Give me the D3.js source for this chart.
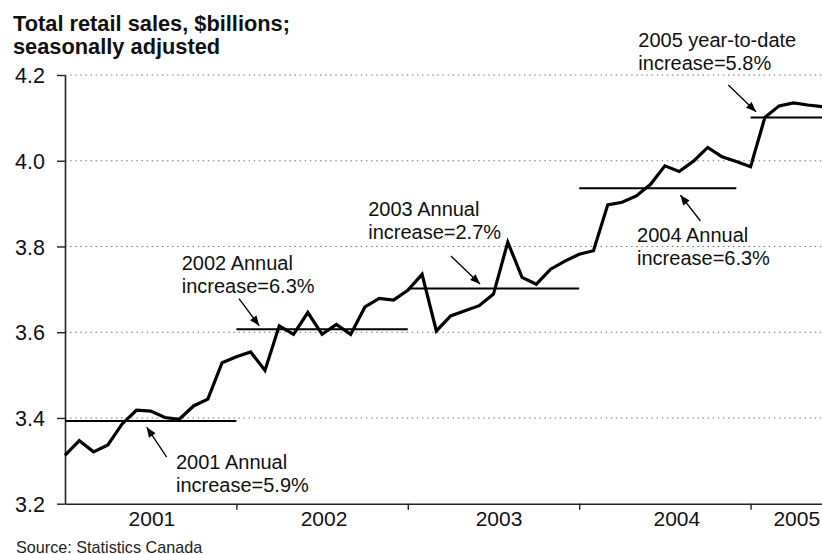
<!DOCTYPE html>
<html>
<head>
<meta charset="utf-8">
<script src="https://cdn.jsdelivr.net/npm/d3@7/dist/d3.min.js"></script>
<style>
  html, body { margin: 0; padding: 0; background: #fff; }
  svg { display: block; font-family: "Liberation Sans", Arial, Helvetica, sans-serif; }
</style>
</head>
<body>
<svg id="chart" width="822" height="554"></svg>
<script>
// ---- data ----
const sales2001 = [3.313, 3.347, 3.321, 3.337, 3.386, 3.418, 3.416, 3.401, 3.397, 3.428, 3.444, 3.529];
const sales2002 = [3.543, 3.554, 3.511, 3.615, 3.595, 3.646, 3.595, 3.618, 3.595, 3.659, 3.679, 3.675];
const sales2003 = [3.698, 3.735, 3.603, 3.638, 3.650, 3.662, 3.689, 3.810, 3.728, 3.712, 3.747, 3.766];
const sales2004 = [3.782, 3.790, 3.897, 3.903, 3.918, 3.945, 3.988, 3.975, 3.999, 4.031, 4.009, 3.998];
const sales2005 = [3.986, 4.101, 4.128, 4.135, 4.130, 4.126];

const yearLabels = ["2001", "2002", "2003", "2004", "2005"];
const yearBoundaries = [12, 24, 36, 48];            // month index where each new year starts
const yearLabelAt = [6.05, 18.1, 30.35, 42.8, 51.2]; // month index under which each year label sits
const yTicks = [3.2, 3.4, 3.6, 3.8, 4.0, 4.2];
const gridValues = [3.4, 3.6, 3.8, 4.0, 4.2];

// annual average levels: [start month index, end month index, level]
const avgYears  = ["2001", "2002", "2003", "2004", "2005"];
const avgStart  = [0, 12, 24, 36, 48];
const avgEnd    = [12, 24, 36, 47, 53];
const avgLevel  = [3.393, 3.607, 3.702, 3.936, 4.101];

// annotations (anchored in data units: month index, $billions)
const noteLine1 = ["2001 Annual", "2002 Annual", "2003 Annual", "2004 Annual", "2005 year-to-date"];
const noteLine2 = ["increase=5.9%", "increase=6.3%", "increase=2.7%", "increase=6.3%", "increase=5.8%"];
const noteAtX   = [7.77, 8.17, 21.23, 40.05, 40.14];
const noteAtY   = [3.282, 3.744, 3.871, 3.811, 4.266];
const arrowFromX = [7.12, 12.18, 27.02, 44.48, 46.44];
const arrowFromY = [3.3086, 3.6784, 3.7776, 3.860, 4.1767];
const arrowToX   = [5.72, 13.60, 29.06, 43.08, 48.38];
const arrowToY   = [3.3785, 3.6150, 3.7123, 3.920, 4.1143];

const sales = [].concat(sales2001, sales2002, sales2003, sales2004, sales2005);

// ---- layout ----
const svg = d3.select("#chart");
const W = 822, H = 554;
const mLeft = 65, mRight = 822, mTop = 75, mBottom = 503.7;

const x = d3.scaleLinear().domain([0, sales.length - 1]).range([mLeft, mRight]);
const y = d3.scaleLinear().domain([3.2, 4.2]).range([mBottom, mTop]);

const defs = svg.append("defs");
defs.append("clipPath").attr("id", "clip")
  .append("rect").attr("x", 0).attr("y", 0).attr("width", W).attr("height", H);

defs.append("marker")
  .attr("id", "arrowhead")
  .attr("viewBox", "0 0 10 8")
  .attr("refX", 10).attr("refY", 4)
  .attr("markerUnits", "userSpaceOnUse")
  .attr("markerWidth", 11).attr("markerHeight", 8)
  .attr("orient", "auto")
  .append("path").attr("d", "M0,0 L10,4 L0,8 Z").attr("fill", "#000");

// title
const title = svg.append("text")
  .attr("font-size", 21.8).attr("font-weight", "bold").attr("fill", "#111");
title.append("tspan").attr("x", 13).attr("y", 31).text("Total retail sales, $billions;");
title.append("tspan").attr("x", 13).attr("y", 54).text("seasonally adjusted");

// gridlines
svg.append("g").selectAll("line").data(gridValues).join("line")
  .attr("x1", mLeft).attr("x2", mRight)
  .attr("y1", d => y(d)).attr("y2", d => y(d))
  .attr("stroke", "#777").attr("stroke-width", 1.1)
  .attr("stroke-dasharray", "1.5,3.6");

// y axis
const yAxis = svg.append("g")
  .attr("transform", `translate(${mLeft},0)`)
  .call(d3.axisLeft(y).tickValues(yTicks).tickFormat(d3.format(".1f")).tickSize(8).tickSizeOuter(0).tickPadding(12));
yAxis.select(".domain").attr("stroke", "#222").attr("stroke-width", 1.6);
yAxis.selectAll(".tick line").attr("stroke", "#222").attr("stroke-width", 1.4);
yAxis.selectAll(".tick text")
  .attr("font-size", 21.5).attr("font-family", "Liberation Sans, Arial, sans-serif")
  .attr("fill", "#111").attr("dy", "0.36em");

// x axis
const xAxis = svg.append("g")
  .attr("transform", `translate(0,${mBottom})`)
  .call(d3.axisBottom(x).tickValues(yearBoundaries).tickFormat("").tickSize(6).tickSizeOuter(0));
xAxis.select(".domain").attr("stroke", "#222").attr("stroke-width", 1.6);
xAxis.selectAll(".tick line").attr("stroke", "#222").attr("stroke-width", 1.4);

const xLabels = svg.append("g")
  .attr("transform", `translate(0,${mBottom})`)
  .call(d3.axisBottom(x).tickValues(yearLabelAt).tickFormat((d, i) => yearLabels[i]).tickSize(0));
xLabels.select(".domain").remove();
xLabels.selectAll(".tick text")
  .attr("font-size", 21).attr("font-family", "Liberation Sans, Arial, sans-serif")
  .attr("fill", "#111").attr("y", 22.3).attr("dy", null);

// annual average lines
svg.append("g").attr("clip-path", "url(#clip)")
  .selectAll("line").data(avgYears).join("line")
  .attr("x1", (d, i) => x(avgStart[i])).attr("x2", (d, i) => x(avgEnd[i]))
  .attr("y1", (d, i) => y(avgLevel[i])).attr("y2", (d, i) => y(avgLevel[i]))
  .attr("stroke", "#000").attr("stroke-width", 2);

// sales line
svg.append("path")
  .datum(sales)
  .attr("clip-path", "url(#clip)")
  .attr("fill", "none").attr("stroke", "#000").attr("stroke-width", 3.2)
  .attr("stroke-linejoin", "miter").attr("stroke-miterlimit", 4)
  .attr("d", d3.line().x((d, i) => x(i)).y(d => y(d)));

// annotations
const notes = svg.append("g");
noteLine1.forEach((t, i) => {
  const tx = x(noteAtX[i]), ty = y(noteAtY[i]);
  const txt = notes.append("text").attr("font-size", 20).attr("fill", "#111");
  txt.append("tspan").attr("x", tx).attr("y", ty).text(t);
  txt.append("tspan").attr("x", tx).attr("y", ty + 23).text(noteLine2[i]);
  notes.append("line")
    .attr("x1", x(arrowFromX[i])).attr("y1", y(arrowFromY[i]))
    .attr("x2", x(arrowToX[i])).attr("y2", y(arrowToY[i]))
    .attr("stroke", "#000").attr("stroke-width", 1.3)
    .attr("marker-end", "url(#arrowhead)");
});

// source
svg.append("text").attr("x", 16).attr("y", 552.5)
  .attr("font-size", 16.2).attr("fill", "#222")
  .text("Source: Statistics Canada");
</script>
</body>
</html>
